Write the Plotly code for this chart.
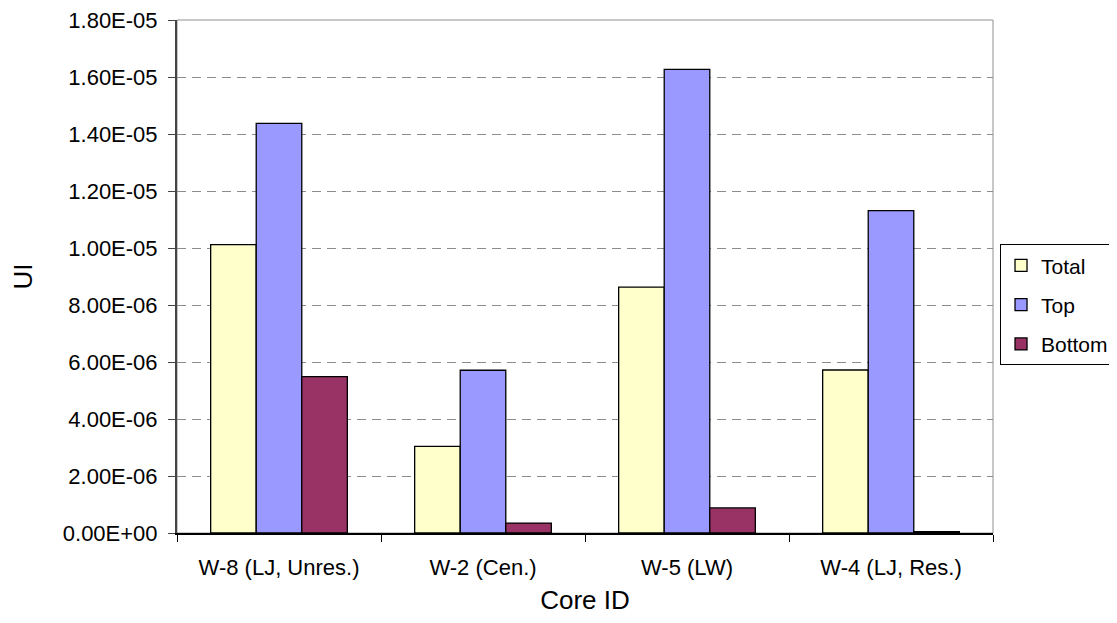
import plotly.graph_objects as go

categories = ["W-8 (LJ, Unres.)", "W-2 (Cen.)", "W-5 (LW)", "W-4 (LJ, Res.)"]
total = [1.012e-05, 3.04e-06, 8.63e-06, 5.72e-06]
top = [1.437e-05, 5.71e-06, 1.627e-05, 1.131e-05]
bottom = [5.49e-06, 3.5e-07, 8.8e-07, 5e-08]

y_tickvals = [0, 2e-06, 4e-06, 6e-06, 8e-06, 1e-05, 1.2e-05, 1.4e-05, 1.6e-05, 1.8e-05]
y_ticktext = ["0.00E+00", "2.00E-06", "4.00E-06", "6.00E-06", "8.00E-06",
              "1.00E-05", "1.20E-05", "1.40E-05", "1.60E-05", "1.80E-05"]

font = "Liberation Sans, Arial, sans-serif"

fig = go.Figure()
for name, vals, color in [("Total", total, "#FFFFCC"), ("Top", top, "#9999FF"), ("Bottom", bottom, "#993366")]:
    fig.add_trace(go.Bar(x=categories, y=vals, name=name, legendgroup=name,
                         marker=dict(color=color, line=dict(color="black", width=1.3))))

fig.update_layout(
    width=1109, height=607,
    margin=dict(l=169, r=124, t=12, b=82, autoexpand=False),
    barmode="group", bargap=0.33, bargroupgap=0,
    plot_bgcolor="white", paper_bgcolor="white",
    font=dict(family=font, size=22, color="black"),
    showlegend=True,
    legend=dict(x=1.0086, y=0.445, xanchor="left", yanchor="middle",
                bordercolor="black", borderwidth=1, font=dict(size=21),
                itemwidth=30, traceorder="grouped", tracegroupgap=9,
                bgcolor="white"),
    xaxis=dict(title=dict(text="Core ID", standoff=18), showline=True, linecolor="black",
               linewidth=1.5, ticks="outside", tickson="boundaries", ticklen=7,
               tickcolor="black", automargin=False, ticklabelstandoff=14),
    yaxis=dict(title=dict(text="UI", standoff=34), range=[0, 1.8000001e-05],
               tickvals=y_tickvals, ticktext=y_ticktext, ticklabeloverflow="allow",
               showgrid=True, gridcolor="#8c8c8c", griddash="9px,6px",
               gridwidth=1, showline=True, linecolor="#444444", linewidth=2,
               ticks="outside", ticklen=7, tickcolor="#444444", zeroline=False,
               ticklabelstandoff=6, automargin=False),
)
# plot-area border (top and right, gray)
fig.add_shape(type="rect", xref="paper", yref="paper", x0=0, y0=0, x1=1, y1=1,
              line=dict(color="#909090", width=1), layer="below")
fig.write_html("out.html")
